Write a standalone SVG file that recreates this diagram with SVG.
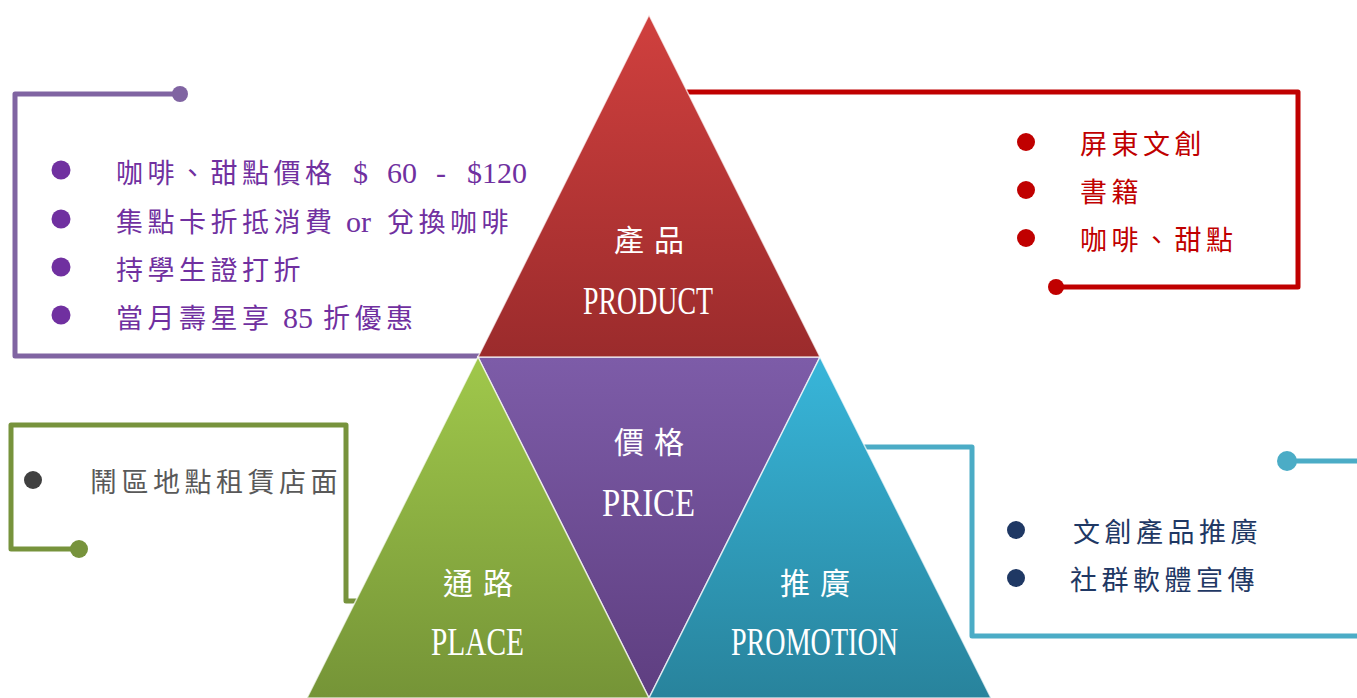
<svg xmlns="http://www.w3.org/2000/svg" width="1357" height="698" viewBox="0 0 1357 698">
  <defs>
    <linearGradient id="gRed" x1="0" y1="0" x2="0" y2="1">
      <stop offset="0" stop-color="#D0403E"/>
      <stop offset="1" stop-color="#9B2B2C"/>
    </linearGradient>
    <linearGradient id="gPurple" x1="0" y1="0" x2="0" y2="1">
      <stop offset="0" stop-color="#7D5CA8"/>
      <stop offset="1" stop-color="#5E3E80"/>
    </linearGradient>
    <linearGradient id="gGreen" x1="0" y1="0" x2="0" y2="1">
      <stop offset="0" stop-color="#A0C84B"/>
      <stop offset="1" stop-color="#759437"/>
    </linearGradient>
    <linearGradient id="gBlue" x1="0" y1="0" x2="0" y2="1">
      <stop offset="0" stop-color="#38B6DA"/>
      <stop offset="1" stop-color="#28839C"/>
    </linearGradient>
    <style>
      .wire { fill: none; stroke-width: 5; stroke-linejoin: round; }
      .tri { stroke: #ffffff; stroke-width: 1.5; stroke-opacity: 0.7; }
      .cjk { font-family: "Liberation Serif", "Noto Sans CJK TC", serif; font-size: 27px; letter-spacing: 4.5px; }
      .num { font-size: 30px; letter-spacing: 0; }
      .head { font-family: "Noto Sans CJK TC", sans-serif; font-size: 30px; letter-spacing: 10px; fill: #ffffff; text-anchor: middle; }
      .latin { font-family: "Liberation Serif", serif; font-size: 40px; fill: #ffffff; }
    </style>
  </defs>
  <rect width="1357" height="698" fill="#ffffff"/>

  <!-- connectors -->
  <g id="connectors">
    <path class="wire" stroke="#8064A2" d="M180 94 H15 V356 H480"/>
    <circle cx="180" cy="94" r="8" fill="#8064A2"/>
    <path class="wire" stroke="#C00000" d="M680 92 H1298 V287 H1056"/>
    <circle cx="1056" cy="287" r="8" fill="#C00000"/>
    <path class="wire" stroke="#77933C" d="M79 549 H11 V425 H346 V601 H362"/>
    <circle cx="79" cy="549" r="9" fill="#77933C"/>
    <path class="wire" stroke="#4BACC6" d="M860 447 H972 V636 H1357"/>
    <path class="wire" stroke="#4BACC6" d="M1287 461 H1357"/>
    <circle cx="1287" cy="461" r="10" fill="#4BACC6"/>
  </g>

  <!-- price (inverted middle) -->
  <g id="price">
    <polygon class="tri" fill="url(#gPurple)" points="478,357 820,357 649,698"/>
    <text class="head" x="654" y="453">價格</text>
    <text class="latin" x="602" y="516" textLength="93" lengthAdjust="spacingAndGlyphs">PRICE</text>
  </g>

  <!-- product (top) -->
  <g id="product">
    <polygon class="tri" fill="url(#gRed)" points="649,15 820,357 478,357"/>
    <text class="head" x="654" y="251">產品</text>
    <text class="latin" x="583" y="314" textLength="130" lengthAdjust="spacingAndGlyphs">PRODUCT</text>
  </g>

  <!-- place (bottom left) -->
  <g id="place">
    <polygon class="tri" fill="url(#gGreen)" points="478,357 649,698 307,698"/>
    <text class="head" x="483" y="594">通路</text>
    <text class="latin" x="431" y="655" textLength="93" lengthAdjust="spacingAndGlyphs">PLACE</text>
  </g>

  <!-- promotion (bottom right) -->
  <g id="promotion">
    <polygon class="tri" fill="url(#gBlue)" points="820,357 991,698 649,698"/>
    <text class="head" x="820" y="594">推廣</text>
    <text class="latin" x="731" y="655" textLength="167" lengthAdjust="spacingAndGlyphs">PROMOTION</text>
  </g>

  <!-- price notes -->
  <g id="price-notes" fill="#7030A0">
    <circle cx="61" cy="170" r="9.5"/>
    <circle cx="61" cy="219" r="9.5"/>
    <circle cx="61" cy="267" r="9.5"/>
    <circle cx="61" cy="315" r="9.5"/>
    <text class="cjk" x="116" y="183">咖啡、甜點價格<tspan class="num" x="353">$</tspan><tspan class="num" x="387">60</tspan><tspan class="num" x="436">-</tspan><tspan class="num" x="467">$120</tspan></text>
    <text class="cjk" x="116" y="232">集點卡折抵消費<tspan class="num" x="346" letter-spacing="3">or</tspan><tspan x="387">兌換咖啡</tspan></text>
    <text class="cjk" x="116" y="280">持學生證打折</text>
    <text class="cjk" x="116" y="328">當月壽星享<tspan class="num" x="283">85</tspan><tspan x="323">折優惠</tspan></text>
  </g>

  <!-- product notes -->
  <g id="product-notes" fill="#C00000">
    <circle cx="1026" cy="142" r="9"/>
    <circle cx="1026" cy="190" r="9"/>
    <circle cx="1026" cy="238" r="9"/>
    <text class="cjk" x="1080" y="154">屏東文創</text>
    <text class="cjk" x="1080" y="202">書籍</text>
    <text class="cjk" x="1080" y="250">咖啡、甜點</text>
  </g>

  <!-- place notes -->
  <g id="place-notes">
    <circle cx="33" cy="480" r="9" fill="#404040"/>
    <text class="cjk" x="90" y="492" fill="#595959">鬧區地點租賃店面</text>
  </g>

  <!-- promotion notes -->
  <g id="promotion-notes" fill="#1F3864">
    <circle cx="1016" cy="530" r="9"/>
    <circle cx="1016" cy="578" r="9"/>
    <text class="cjk" x="1073" y="542">文創產品推廣</text>
    <text class="cjk" x="1070" y="590">社群軟體宣傳</text>
  </g>
</svg>
